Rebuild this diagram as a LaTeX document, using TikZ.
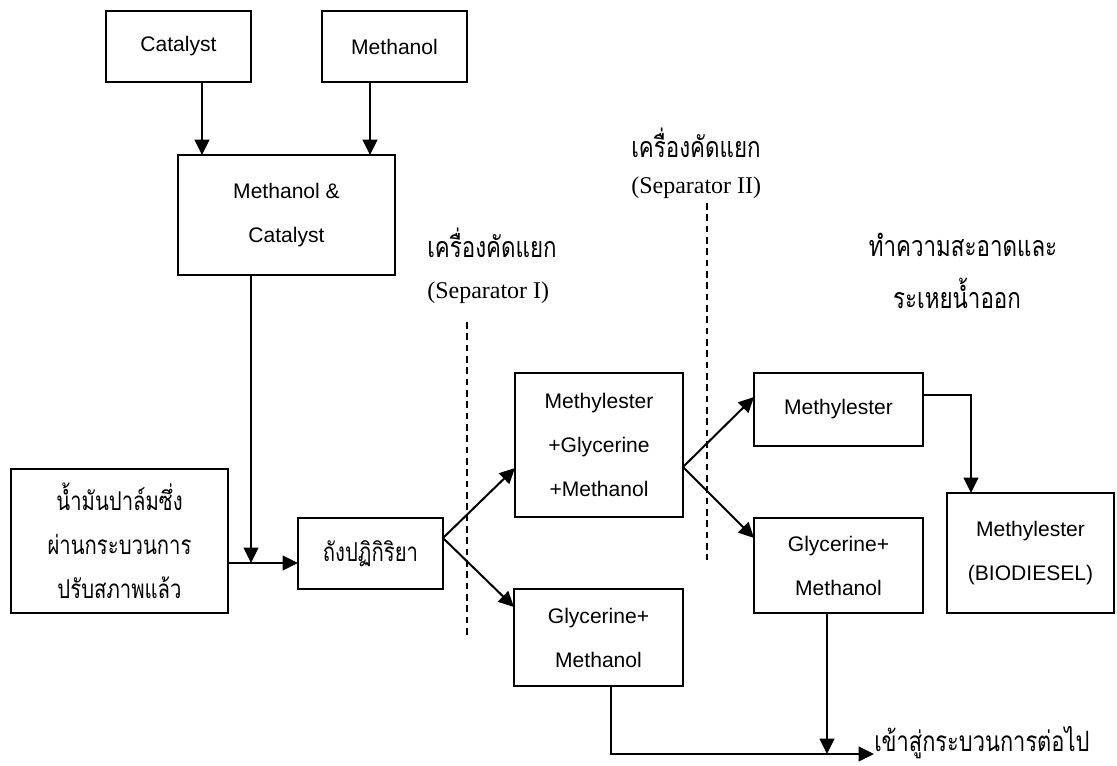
\documentclass[tikz,border=0pt]{standalone}
\usepackage{fontspec}
\setmainfont{Liberation Sans}
\newfontfamily\thaifont[Script=Thai,FakeStretch=0.78]{Loma}
\newfontfamily\timesfont{Liberation Serif}
\usetikzlibrary{arrows.meta}
\begin{document}
\begin{tikzpicture}[x=0.75pt,y=-0.75pt,
  box/.style={draw, line width=1.5pt, inner sep=0pt, outer sep=0pt, align=center, font=\fontsize{15.8}{33}\selectfont},
  thaibox/.style={box, font=\thaifont\fontsize{19.5}{33}\selectfont},
  arr/.style={line width=1.5pt, -{Triangle[length=11.5pt,width=11pt]}},
  sepline/.style={line width=1.3pt, dash pattern=on 5pt off 3.5pt},
  lab/.style={anchor=west, inner sep=0pt, font=\thaifont\fontsize{21.5}{24}\selectfont},
  labe/.style={anchor=west, inner sep=0pt, font=\timesfont\fontsize{18}{20}\selectfont}]
\useasboundingbox (0,0) rectangle (1117,765);

\node[box, minimum width=108.75pt, minimum height=53.25pt] (cat) at (178.5,46.5) {Catalyst};
\node[box, minimum width=108.75pt, minimum height=53.25pt] (meth) at (394.5,46.5) {Methanol};
\node[box, minimum width=162.75pt, minimum height=90pt] (mc) at (286.5,215) {Methanol \&\\Catalyst};
\node[thaibox, minimum width=162.75pt, minimum height=108pt] (palm) at (119.5,541) {น้ำมันปาล์มซึ่ง\\ผ่านกระบวนการ\\ปรับสภาพแล้ว};
\node[thaibox, minimum width=108.75pt, minimum height=53.25pt] (reac) at (370.5,553.5) {ถังปฏิกิริยา};
\node[box, minimum width=126pt, minimum height=108pt] (mgm) at (599,445) {Methylester\\+Glycerine\\+Methanol};
\node[box, minimum width=126.75pt, minimum height=72.75pt] (gm1) at (598.5,637.5) {Glycerine+\\Methanol};
\node[box, minimum width=126.75pt, minimum height=54.75pt] (me) at (838.5,409.5) {Methylester};
\node[box, minimum width=126.75pt, minimum height=71.25pt] (gm2) at (838.5,565.5) {Glycerine+\\Methanol};
\node[box, minimum width=125.25pt, minimum height=90pt] (bio) at (1030.5,553) {Methylester\\(BIODIESEL)};

\coordinate (c1) at (202,0);
\coordinate (c2) at (370,0);
\coordinate (j) at (251,563);
\coordinate (s1) at (443,538);
\coordinate (t1) at (515,468);
\coordinate (t2) at (515,607);
\coordinate (s2) at (683,467);
\coordinate (t3) at (754,397);
\coordinate (t4) at (754,538);
\coordinate (k) at (971,395);
\coordinate (o1) at (611,754);
\coordinate (o2) at (827,754);

\node[lab, anchor=base west, font=\thaifont\fontsize{21}{24}\selectfont] (out) at (874,751) {เข้าสู่กระบวนการต่อไป};

\draw[arr] (cat.south -| c1) -- (mc.north -| c1);
\draw[arr] (meth.south -| c2) -- (mc.north -| c2);
\draw[arr] (mc.south -| j) -- (j);
\draw[arr] (palm.east |- j) -- (reac.west |- j);
\draw[arr] (reac.east |- s1) -- (mgm.west |- t1);
\draw[arr] (reac.east |- s1) -- (gm1.west |- t2);
\draw[arr] (mgm.east |- s2) -- (me.west |- t3);
\draw[arr] (mgm.east |- s2) -- (gm2.west |- t4);
\draw[arr] (me.east |- k) -| (bio.north -| k);
\draw[arr] (gm1.south -| o1) |- (out.west |- o1);
\draw[arr] (gm2.south -| o2) -- (o2);

\draw[sepline] (467,322) -- (467,637);
\draw[sepline] (707,203) -- (707,560);

\node[lab] (l1) at (427,243) {เครื่องคัดแยก};
\node[labe] (l2) at (427,293) {(Separator I)};
\node[lab] (l3) at (631,143) {เครื่องคัดแยก};
\node[labe] (l4) at (631,188) {(Separator II)};
\node[lab, anchor=center] (l5) at (963,245) {ทำความสะอาดและ};
\node[lab, anchor=center] (l6) at (957,293) {ระเหยน้ำออก};
\end{tikzpicture}
\end{document}
